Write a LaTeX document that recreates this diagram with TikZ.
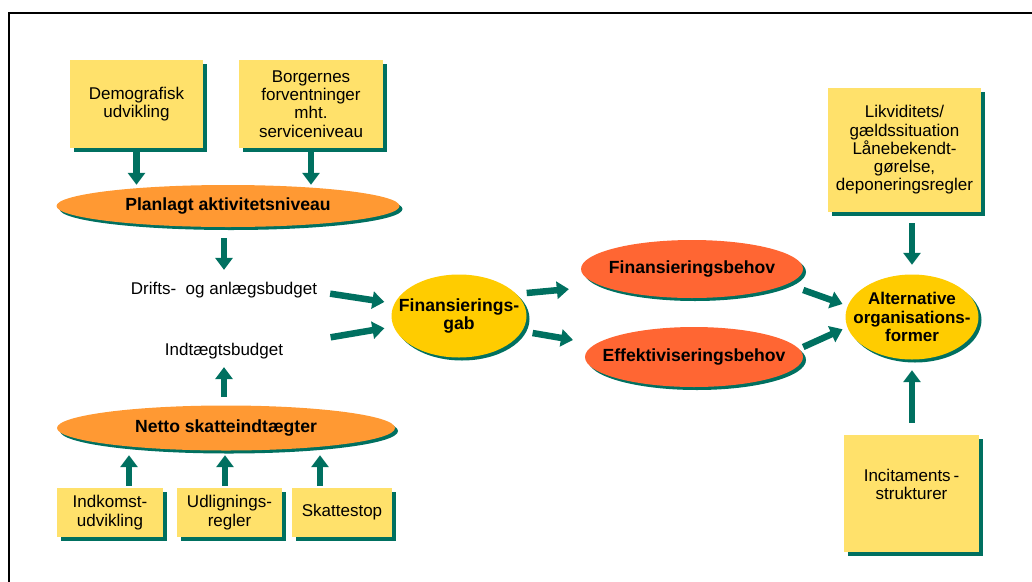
\documentclass[tikz,border=0pt]{standalone}
\usepackage{fontspec}
\setmainfont{Liberation Sans}
\usetikzlibrary{shapes.geometric,shadows,arrows.meta}
\definecolor{arrowteal}{RGB}{0,112,96}
\definecolor{boxyellow}{RGB}{255,225,107}
\definecolor{ovalorange}{RGB}{255,153,51}
\definecolor{ovalred}{RGB}{255,102,51}
\definecolor{ovalgold}{RGB}{255,204,0}

\begin{document}
\begin{tikzpicture}[x=1pt,y=-1pt,
  txt/.style={font=\fontsize{17}{18.3}\selectfont, align=center, inner sep=2pt},
  box/.style={txt, rectangle, fill=boxyellow,
    drop shadow={shadow xshift=4pt,shadow yshift=-4pt,fill=arrowteal,opacity=1}},
  oval/.style={txt, ellipse, inner sep=-16pt, font=\fontsize{17.6}{18.6}\selectfont\bfseries,
    drop shadow={shadow xshift=3pt,shadow yshift=-3pt,fill=arrowteal,opacity=1}},
  arr/.style={line width=6.5pt, arrowteal, -{Triangle[width=17pt,length=12pt]}}]
\useasboundingbox (0,0) rectangle (1032,581);
\clip (0,0) rectangle (1032,581);
\draw[line width=2pt] (9,13) rectangle (1060,610);

% top part
\node[box, minimum width=133pt, minimum height=88pt] (demo) at (136.5,104) {Demografisk\\udvikling};
\node[box, minimum width=144pt, minimum height=88pt] (borg) at (311,104) {Borgernes\\forventninger\\mht.\\serviceniveau};
\node[oval, fill=ovalorange, minimum width=343pt, minimum height=42pt] (plan) at (228,206) {Planlagt aktivitetsniveau};
\node[txt] (drifts) at (224,290) {Drifts-\ \ og anlægsbudget};
\node[txt] (indt) at (224,351) {Indtægtsbudget};

% bottom part
\node[oval, fill=ovalorange, minimum width=338pt, minimum height=45pt] (netto) at (226,428) {Netto skatteindtægter};
\node[box, minimum width=106pt, minimum height=49pt] (ink) at (110,512.5) {Indkomst-\\udvikling};
\node[box, minimum width=105pt, minimum height=49pt] (udl) at (229.5,512.5) {Udlignings-\\regler};
\node[box, minimum width=100pt, minimum height=49pt] (skat) at (342,512.5) {Skattestop};

% middle and right
\node[oval, fill=ovalgold, minimum width=135pt, minimum height=83pt] (gab) at (459,316) {Finansierings-\\gab};
\node[oval, fill=ovalred, minimum width=222pt, minimum height=58pt] (finbehov) at (692,269) {Finansieringsbehov};
\node[oval, fill=ovalred, minimum width=218pt, minimum height=60pt] (effbehov) at (694,357) {Effektiviseringsbehov};
\node[oval, fill=ovalgold, minimum width=133pt, minimum height=85pt, font=\fontsize{17}{18.6}\selectfont\bfseries] (alt) at (912,317) {Alternative\\organisations-\\former};
\node[box, minimum width=153pt, minimum height=124pt] (likv) at (904.5,150) {Likviditets/\\gældssituation\\Lånebekendt-\\gørelse,\\deponeringsregler};
\node[box, minimum width=135pt, minimum height=117pt] (inc) at (911.5,493.5) {Incitaments\,-\\strukturer\\\mbox{}};

% arrows
\draw[arr, shorten <=4pt] (demo.south) -- (demo.south |- plan.north);
\draw[arr, shorten <=4pt] (borg.south) -- (borg.south |- plan.north);
\draw[arr, shorten <=11pt] (drifts.north |- plan.south) -- ([yshift=10pt]drifts.north);
\draw[arr, shorten <=8.5pt, shorten >=6pt] (indt.south |- netto.north) -- (indt.south);
\draw[arr, shorten <=2pt, shorten >=4.5pt] ([xshift=19pt]ink.north) -- ([xshift=19pt]ink.north |- netto.south);
\draw[arr, shorten <=2pt, shorten >=4.5pt] ([xshift=-4.5pt]udl.north) -- ([xshift=-4.5pt]udl.north |- netto.south);
\draw[arr, shorten <=2pt, shorten >=4.5pt] ([xshift=-22pt]skat.north) -- ([xshift=-22pt]skat.north |- netto.south);
\draw[arr, shorten <=11pt, shorten >=7pt] ([yshift=-2pt]drifts.east) -- ([yshift=13pt]gab.west);
\draw[arr, shorten <=46pt, shorten >=7pt] ([yshift=6pt]indt.east) -- ([yshift=-11pt]gab.west);
\draw[arr, shorten >=12pt] ([yshift=23pt]gab.east) -- ([yshift=-19pt]finbehov.west);
\draw[arr, shorten <=6pt, shorten >=12pt] ([yshift=-16pt]gab.east) -- ([yshift=15pt]effbehov.west);
\draw[arr, shorten >=3pt] ([yshift=-21pt]finbehov.east) -- ([yshift=12pt]alt.west);
\draw[arr, shorten >=3pt] ([yshift=10pt]effbehov.east) -- ([yshift=-11pt]alt.west);
\draw[arr, shorten <=11pt, shorten >=9.5pt] (likv.south -| alt.north) -- (alt.north);
\draw[arr, shorten <=12pt, shorten >=10.5pt] (inc.north -| alt.south) -- (alt.south);
\end{tikzpicture}
\end{document}
